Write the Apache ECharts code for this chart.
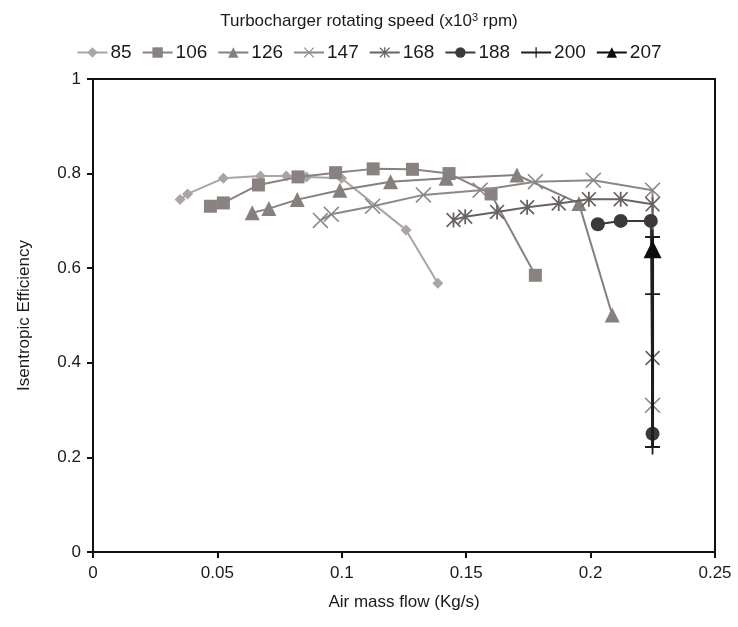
<!DOCTYPE html>
<html><head><meta charset="utf-8">
<script src="https://cdn.jsdelivr.net/npm/echarts@6/dist/echarts.min.js"></script>
<style>html,body{margin:0;padding:0;background:#fff}#c{width:738px;height:627px}</style>
</head><body><div id="c"></div>
<script>
const speeds = ['85','106','126','147','168','188','200','207'];
const flow85  = [0.0350,0.0380,0.0524,0.0673,0.0777,0.0858,0.0999,0.1258,0.1386];
const eff85   = [0.745,0.757,0.790,0.795,0.795,0.793,0.790,0.681,0.568];
const flow106 = [0.0472,0.0524,0.0665,0.0824,0.0975,0.1126,0.1284,0.1431,0.1600,0.1778];
const eff106  = [0.731,0.738,0.776,0.793,0.802,0.810,0.809,0.800,0.757,0.585];
const flow126 = [0.0640,0.0707,0.0821,0.0992,0.1196,0.1419,0.1704,0.1953,0.2087];
const eff126  = [0.717,0.726,0.745,0.765,0.783,0.790,0.797,0.737,0.501];
const flow147 = [0.0914,0.0958,0.1124,0.1328,0.1556,0.1778,0.2011,0.2249,0.2249];
const eff147  = [0.701,0.714,0.731,0.755,0.765,0.783,0.786,0.765,0.310];
const flow168 = [0.1449,0.1496,0.1624,0.1745,0.1872,0.1993,0.2121,0.2249,0.2249];
const eff168  = [0.702,0.709,0.719,0.729,0.737,0.746,0.746,0.735,0.410];
const flow188 = [0.2029,0.2121,0.2242,0.2249];
const eff188  = [0.693,0.700,0.700,0.250];
const flow200 = [0.2249,0.2249,0.2249];
const eff200  = [0.666,0.545,0.222];
const flow207 = [0.2249];
const eff207  = [0.640];
const xTicks = [0,0.05,0.1,0.15,0.2,0.25];
const yTicks = [0,0.2,0.4,0.6,0.8,1];

const X = 'path://M0,0.7L0.7,0L5,4.3L9.3,0L10,0.7L5.7,5L10,9.3L9.3,10L5,5.7L0.7,10L0,9.3L4.3,5Z';
const PLUS = 'path://M4.4,0H5.6V4.4H10V5.6H5.6V10H4.4V5.6H0V4.4H4.4Z';
const AST = 'path://M0,0.8L0.8,0L5,4.2L9.2,0L10,0.8L5.8,5L10,9.2L9.2,10L5,5.8L0.8,10L0,9.2L4.2,5ZM4.4,0H5.6V10H4.4Z';

const flows = [flow85,flow106,flow126,flow147,flow168,flow188,flow200,flow207];
const effs = [eff85,eff106,eff126,eff147,eff168,eff188,eff200,eff207];
const colors = ['#aaa5a3','#898280','#85807e','#8c8886','#686361','#3d3938','#1f1c1c','#0d0d0d'];
const symbols = ['diamond','rect','triangle',X,AST,'circle',PLUS,'triangle'];
const sizes = [11,13,15,16,15,14,15,18];
const widths = [2,2,2,2,2,2,3,3];

const series = speeds.map((s,i)=>({
  name: s, type:'line',
  data: flows[i].map((f,j)=>[f,effs[i][j]]),
  symbol: symbols[i], symbolSize: sizes[i],
  itemStyle:{color:colors[i]},
  lineStyle:{color:colors[i], width:widths[i]},
  z: 2+i, animation:false
}));

const chart = echarts.init(document.getElementById('c'));
chart.setOption({
  backgroundColor:'#fff',
  title:{text:'Turbocharger rotating speed (x10{sup|3} rpm)', left:'center', top:7,
    textStyle:{fontFamily:'Liberation Sans', fontSize:17, fontWeight:'normal', color:'#1a1a1a',
      rich:{sup:{fontFamily:'Liberation Sans', fontSize:11, color:'#1a1a1a', verticalAlign:'top', padding:[0,0,7,0]}}}},
  legend:{top:38, left:'center', itemGap:10, itemWidth:30, itemHeight:13,
    textStyle:{fontFamily:'Liberation Sans', fontSize:19, color:'#1a1a1a', padding:[0,0,0,-2]},
    data: speeds},
  grid:{left:93, right:23, top:79, bottom:75, show:true, borderColor:'#111', borderWidth:2},
  xAxis:{type:'value', min:0, max:0.25, interval:0.05,
    name:'Air mass flow (Kg/s)', nameLocation:'middle', nameGap:42,
    nameTextStyle:{fontFamily:'Liberation Sans', fontSize:17, color:'#1a1a1a'},
    axisLine:{lineStyle:{color:'#111', width:2}},
    axisTick:{length:6, lineStyle:{color:'#111', width:2}},
    axisLabel:{fontFamily:'Liberation Sans', fontSize:17, color:'#1a1a1a', margin:13,
      formatter:v=>String(+v.toFixed(2))},
    splitLine:{show:false}},
  yAxis:{type:'value', min:0, max:1, interval:0.2,
    name:'Isentropic Efficiency', nameLocation:'middle', nameGap:60,
    nameTextStyle:{fontFamily:'Liberation Sans', fontSize:17, color:'#1a1a1a'},
    axisLine:{show:true, lineStyle:{color:'#111', width:2}},
    axisTick:{show:true, length:6, lineStyle:{color:'#111', width:2}},
    axisLabel:{fontFamily:'Liberation Sans', fontSize:17, color:'#1a1a1a', margin:12,
      formatter:v=>String(+v.toFixed(1))},
    splitLine:{show:false}},
  series
});
</script></body></html>
